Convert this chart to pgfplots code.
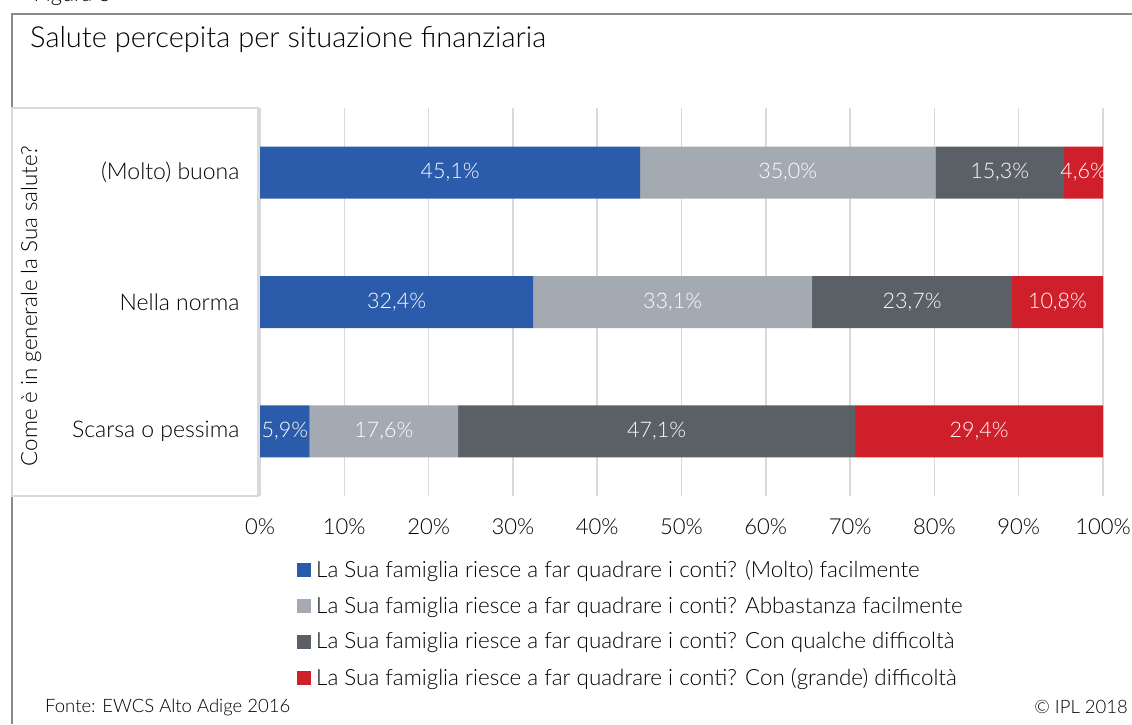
\documentclass[border=0pt]{standalone}
\usepackage{pgfplots}
\pgfplotsset{compat=1.18}
\usepackage{fontspec}
\setmainfont{Lato Light}
\definecolor{cblue}{HTML}{2B5BAB}
\definecolor{clgray}{HTML}{A3AAB2}
\definecolor{cdgray}{HTML}{5B5F66}
\definecolor{cred}{HTML}{CE1F2A}
\definecolor{cgrid}{HTML}{D9D9D9}
\definecolor{cframe}{HTML}{8A8A8A}
\tikzset{lab/.style={text=white, font=\fontsize{21.5}{25}\selectfont, anchor=center, inner sep=0pt}}
\begin{document}
\begin{tikzpicture}[x=1pt,y=1pt]
\clip (0,0) rectangle (1132,724);
\node[anchor=base west, font=\fontsize{22}{26}\selectfont] at (30,722) {Figura 3};
\draw[color=cframe, line width=1.5pt] (12,0) -- (12,710) -- (1132,710);
\node[anchor=west, inner sep=0pt, font=\fontsize{29}{33}\selectfont] at (30,684) {Salute percepita per situazione finanziaria};
\draw[color=cgrid, line width=1.2pt] (12,228) rectangle (258,616);
\node[rotate=90, font=\fontsize{22.3}{26}\selectfont] at (31,418) {Come è in generale la Sua salute?};
\node[anchor=west, inner sep=0pt, font=\fontsize{18.5}{23}\selectfont] at (45,17) {Fonte: EWCS Alto Adige 2016};
\node[anchor=east, inner sep=0pt, font=\fontsize{18.5}{23}\selectfont] at (1128,17) {© IPL 2018};
\begin{axis}[at={(260pt,228pt)}, anchor=south west, width=843pt, height=388pt, scale only axis,
  xbar stacked, bar width=52pt, xmin=0, xmax=100, ymin=-0.5, ymax=2.5,
  xtick={0,10,...,100}, xticklabel={\pgfmathprintnumber{\tick}\%},
  ytick={0,1,2}, yticklabels={Scarsa o pessima, Nella norma, (Molto) buona},
  axis line style={draw=none}, major tick length=0pt,
  xmajorgrids, grid style={color=cgrid, line width=1.5pt},
  xticklabel style={font=\fontsize{22}{26}\selectfont, yshift=-19pt},
  yticklabel style={font=\fontsize{23}{27}\selectfont, xshift=-17pt},
  /pgf/number format/assume math mode=true,
  legend style={at={(0.0439,-0.16)}, anchor=north west, draw=none, fill=none, inner sep=0pt,
    font=\fontsize{22.4}{26}\selectfont, row sep=14pt, cells={anchor=west}, nodes={inner xsep=5pt}},
  legend image code/.code={\fill[#1, draw=none] (0pt,-7pt) rectangle (14pt,7pt);},
]
\addplot[fill=cblue, draw=none] coordinates {(5.9,0) (32.4,1) (45.1,2)};
\addplot[fill=clgray, draw=none] coordinates {(17.6,0) (33.1,1) (35.0,2)};
\addplot[fill=cdgray, draw=none] coordinates {(47.1,0) (23.7,1) (15.3,2)};
\addplot[fill=cred, draw=none] coordinates {(29.4,0) (10.8,1) (4.6,2)};
\legend{La Sua famiglia riesce a far quadrare i conti? (Molto) facilmente,
La Sua famiglia riesce a far quadrare i conti? Abbastanza facilmente,
La Sua famiglia riesce a far quadrare i conti? Con qualche difficoltà,
La Sua famiglia riesce a far quadrare i conti? Con (grande) difficoltà}
\coordinate (a1) at (axis cs:22.55,2);
\coordinate (a2) at (axis cs:62.6,2);
\coordinate (a3) at (axis cs:87.75,2);
\coordinate (a4) at (axis cs:97.7,2);
\coordinate (b1) at (axis cs:16.2,1);
\coordinate (b2) at (axis cs:48.95,1);
\coordinate (b3) at (axis cs:77.35,1);
\coordinate (b4) at (axis cs:94.6,1);
\coordinate (c1) at (axis cs:2.95,0);
\coordinate (c2) at (axis cs:14.7,0);
\coordinate (c3) at (axis cs:47.05,0);
\coordinate (c4) at (axis cs:85.3,0);
\end{axis}
\node[lab] at (a1) {45,1\%};
\node[lab] at (a2) {35,0\%};
\node[lab] at (a3) {15,3\%};
\node[lab] at (a4) {4,6\%};
\node[lab] at (b1) {32,4\%};
\node[lab] at (b2) {33,1\%};
\node[lab] at (b3) {23,7\%};
\node[lab] at (b4) {10,8\%};
\node[lab] at (c1) {5,9\%};
\node[lab] at (c2) {17,6\%};
\node[lab] at (c3) {47,1\%};
\node[lab] at (c4) {29,4\%};
\end{tikzpicture}
\end{document}
